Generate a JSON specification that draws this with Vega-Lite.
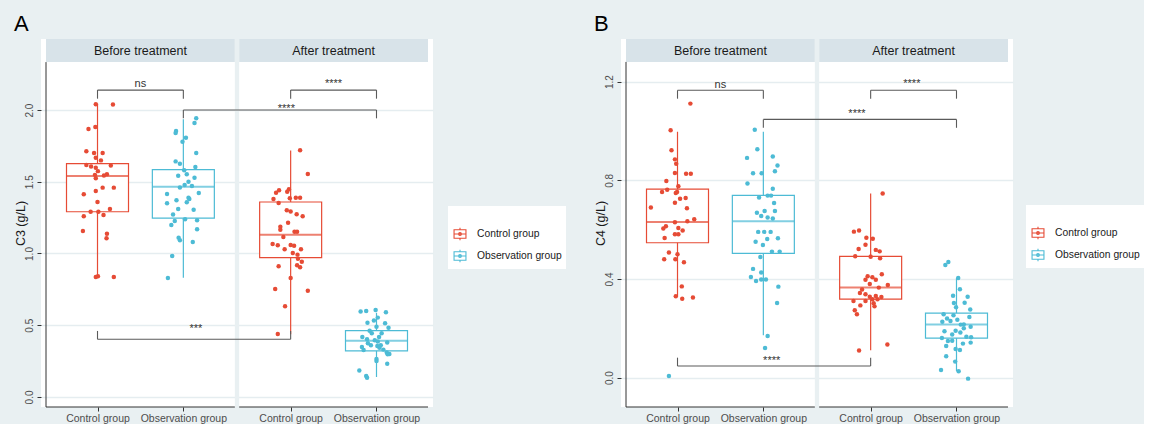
{
  "$schema": "https://vega.github.io/schema/vega-lite/v6.json",
  "background": "#e9f0f2",
  "padding": {"left": 14, "top": 13, "right": 0, "bottom": 0},
  "spacing": 188,
  "bounds": "flush",
  "resolve": {"scale": {"color": "independent", "stroke": "independent"}},
  "config": {
    "font": "Liberation Sans",
    "view": {"fill": "white", "stroke": null},
    "axis": {"labelFlush": false, "labelOverlap": false}
  },
  "datasets": {
    "one": [{}],
    "strips": [
      {"lab": "Before treatment", "x0": 0.4, "x1": 2.6, "xm": 1.5},
      {"lab": "After treatment", "x0": 2.65, "x1": 4.85, "xm": 3.75}
    ],
    "boxA": [
      {"t": "Before", "g": "Control group", "x": 1, "lo": 0.831, "q1": 1.291, "med": 1.54, "q3": 1.626, "hi": 2.045},
      {"t": "Before", "g": "Observation group", "x": 2, "lo": 0.831, "q1": 1.247, "med": 1.466, "q3": 1.584, "hi": 1.935},
      {"t": "After", "g": "Control group", "x": 3.25, "lo": 0.437, "q1": 0.971, "med": 1.131, "q3": 1.359, "hi": 1.717},
      {"t": "After", "g": "Observation group", "x": 4.25, "lo": 0.139, "q1": 0.321, "med": 0.392, "q3": 0.462, "hi": 0.587}
    ],
    "boxB": [
      {"t": "Before", "g": "Control group", "x": 1, "lo": 0.331, "q1": 0.547, "med": 0.631, "q3": 0.764, "hi": 0.997},
      {"t": "Before", "g": "Observation group", "x": 2, "lo": 0.172, "q1": 0.504, "med": 0.634, "q3": 0.739, "hi": 0.997},
      {"t": "After", "g": "Control group", "x": 3.25, "lo": 0.111, "q1": 0.318, "med": 0.365, "q3": 0.492, "hi": 0.747},
      {"t": "After", "g": "Observation group", "x": 4.25, "lo": 0.027, "q1": 0.16, "med": 0.215, "q3": 0.262, "hi": 0.405}
    ],
    "brA": [
      {"x1": 1, "x2": 2, "y": 2.139, "tip": 2.079, "lab": "ns", "lx": 1.5, "ly": 2.157},
      {"x1": 3.25, "x2": 4.25, "y": 2.139, "tip": 2.079, "lab": "****", "lx": 3.75, "ly": 2.163},
      {"x1": 2, "x2": 4.25, "y": 2.0, "tip": 1.942, "lab": "****", "lx": 3.2, "ly": 1.989},
      {"x1": 1, "x2": 3.25, "y": 0.402, "tip": 0.46, "lab": "***", "lx": 2.147, "ly": 0.456}
    ],
    "brB": [
      {"x1": 1, "x2": 2, "y": 1.165, "tip": 1.131, "lab": "ns", "lx": 1.5, "ly": 1.176},
      {"x1": 3.25, "x2": 4.25, "y": 1.165, "tip": 1.131, "lab": "****", "lx": 3.73, "ly": 1.18},
      {"x1": 2, "x2": 4.25, "y": 1.047, "tip": 1.013, "lab": "****", "lx": 3.09, "ly": 1.057},
      {"x1": 1, "x2": 3.25, "y": 0.047, "tip": 0.081, "lab": "****", "lx": 2.097, "ly": 0.056}
    ],
    "ptsA": [
      {"t":"Before","g":"Control group","x":0.98,"v":2.04},{"t":"Before","g":"Control group","x":1.18,"v":2.038},{"t":"Before","g":"Control group","x":0.895,"v":1.868},{"t":"Before","g":"Control group","x":0.975,"v":1.882},{"t":"Before","g":"Control group","x":0.87,"v":1.712},{"t":"Before","g":"Control group","x":0.96,"v":1.7},{"t":"Before","g":"Control group","x":1.06,"v":1.7},{"t":"Before","g":"Control group","x":0.98,"v":1.668},{"t":"Before","g":"Control group","x":1.04,"v":1.649},{"t":"Before","g":"Control group","x":0.87,"v":1.617},{"t":"Before","g":"Control group","x":0.925,"v":1.607},{"t":"Before","g":"Control group","x":0.98,"v":1.597},{"t":"Before","g":"Control group","x":1.005,"v":1.574},{"t":"Before","g":"Control group","x":1.11,"v":1.552},{"t":"Before","g":"Control group","x":1.155,"v":1.614},{"t":"Before","g":"Control group","x":0.98,"v":1.524},{"t":"Before","g":"Control group","x":1.06,"v":1.459},{"t":"Before","g":"Control group","x":1.19,"v":1.459},{"t":"Before","g":"Control group","x":0.98,"v":1.436},{"t":"Before","g":"Control group","x":0.84,"v":1.413},{"t":"Before","g":"Control group","x":1.0,"v":1.359},{"t":"Before","g":"Control group","x":1.145,"v":1.31},{"t":"Before","g":"Control group","x":0.92,"v":1.291},{"t":"Before","g":"Control group","x":1.01,"v":1.291},{"t":"Before","g":"Control group","x":1.07,"v":1.268},{"t":"Before","g":"Control group","x":0.84,"v":1.259},{"t":"Before","g":"Control group","x":0.83,"v":1.157},{"t":"Before","g":"Control group","x":1.11,"v":1.138},{"t":"Before","g":"Control group","x":1.105,"v":1.106},{"t":"Before","g":"Control group","x":0.98,"v":0.836},{"t":"Before","g":"Control group","x":1.005,"v":0.841},{"t":"Before","g":"Control group","x":1.19,"v":0.836},{"t":"Before","g":"Control group","x":0.97,"v":1.548},{"t":"Before","g":"Control group","x":1.075,"v":1.543},
      {"t":"Before","g":"Observation group","x":2.15,"v":1.942},{"t":"Before","g":"Observation group","x":2.13,"v":1.909},{"t":"Before","g":"Observation group","x":1.915,"v":1.854},{"t":"Before","g":"Observation group","x":1.91,"v":1.84},{"t":"Before","g":"Observation group","x":2.03,"v":1.807},{"t":"Before","g":"Observation group","x":1.99,"v":1.779},{"t":"Before","g":"Observation group","x":2.15,"v":1.7},{"t":"Before","g":"Observation group","x":1.91,"v":1.642},{"t":"Before","g":"Observation group","x":1.96,"v":1.626},{"t":"Before","g":"Observation group","x":2.01,"v":1.58},{"t":"Before","g":"Observation group","x":2.14,"v":1.603},{"t":"Before","g":"Observation group","x":2.04,"v":1.552},{"t":"Before","g":"Observation group","x":1.94,"v":1.542},{"t":"Before","g":"Observation group","x":2.13,"v":1.528},{"t":"Before","g":"Observation group","x":2.015,"v":1.477},{"t":"Before","g":"Observation group","x":2.1,"v":1.47},{"t":"Before","g":"Observation group","x":1.81,"v":1.415},{"t":"Before","g":"Observation group","x":2.18,"v":1.422},{"t":"Before","g":"Observation group","x":2.06,"v":1.389},{"t":"Before","g":"Observation group","x":1.92,"v":1.371},{"t":"Before","g":"Observation group","x":2.04,"v":1.357},{"t":"Before","g":"Observation group","x":1.81,"v":1.35},{"t":"Before","g":"Observation group","x":2.12,"v":1.305},{"t":"Before","g":"Observation group","x":1.88,"v":1.271},{"t":"Before","g":"Observation group","x":1.94,"v":1.31},{"t":"Before","g":"Observation group","x":2.02,"v":1.238},{"t":"Before","g":"Observation group","x":2.16,"v":1.231},{"t":"Before","g":"Observation group","x":1.9,"v":1.226},{"t":"Before","g":"Observation group","x":1.86,"v":1.199},{"t":"Before","g":"Observation group","x":2.16,"v":1.169},{"t":"Before","g":"Observation group","x":1.945,"v":1.11},{"t":"Before","g":"Observation group","x":1.96,"v":1.092},{"t":"Before","g":"Observation group","x":2.11,"v":1.08},{"t":"Before","g":"Observation group","x":1.87,"v":0.983},{"t":"Before","g":"Observation group","x":1.82,"v":0.829},{"t":"Before","g":"Observation group","x":2.06,"v":1.5},{"t":"Before","g":"Observation group","x":1.96,"v":1.46},{"t":"Before","g":"Observation group","x":2.07,"v":1.38},
      {"t":"After","g":"Control group","x":3.36,"v":1.719},{"t":"After","g":"Control group","x":3.45,"v":1.554},{"t":"After","g":"Control group","x":3.23,"v":1.447},{"t":"After","g":"Control group","x":3.21,"v":1.43},{"t":"After","g":"Control group","x":3.115,"v":1.44},{"t":"After","g":"Control group","x":3.08,"v":1.424},{"t":"After","g":"Control group","x":3.05,"v":1.38},{"t":"After","g":"Control group","x":3.24,"v":1.385},{"t":"After","g":"Control group","x":3.31,"v":1.389},{"t":"After","g":"Control group","x":3.36,"v":1.389},{"t":"After","g":"Control group","x":3.11,"v":1.352},{"t":"After","g":"Control group","x":3.205,"v":1.301},{"t":"After","g":"Control group","x":3.25,"v":1.292},{"t":"After","g":"Control group","x":3.32,"v":1.273},{"t":"After","g":"Control group","x":3.39,"v":1.259},{"t":"After","g":"Control group","x":3.22,"v":1.215},{"t":"After","g":"Control group","x":3.13,"v":1.187},{"t":"After","g":"Control group","x":3.13,"v":1.166},{"t":"After","g":"Control group","x":3.295,"v":1.152},{"t":"After","g":"Control group","x":3.325,"v":1.152},{"t":"After","g":"Control group","x":3.165,"v":1.115},{"t":"After","g":"Control group","x":3.04,"v":1.066},{"t":"After","g":"Control group","x":3.1,"v":1.057},{"t":"After","g":"Control group","x":3.25,"v":1.059},{"t":"After","g":"Control group","x":3.29,"v":1.054},{"t":"After","g":"Control group","x":3.18,"v":1.029},{"t":"After","g":"Control group","x":3.37,"v":1.029},{"t":"After","g":"Control group","x":3.275,"v":1.003},{"t":"After","g":"Control group","x":3.33,"v":0.992},{"t":"After","g":"Control group","x":3.335,"v":0.964},{"t":"After","g":"Control group","x":3.38,"v":0.943},{"t":"After","g":"Control group","x":3.325,"v":0.918},{"t":"After","g":"Control group","x":3.36,"v":0.904},{"t":"After","g":"Control group","x":3.11,"v":0.911},{"t":"After","g":"Control group","x":3.25,"v":0.829},{"t":"After","g":"Control group","x":3.07,"v":0.753},{"t":"After","g":"Control group","x":3.45,"v":0.741},{"t":"After","g":"Control group","x":3.185,"v":0.632},{"t":"After","g":"Control group","x":3.1,"v":0.439},
      {"t":"After","g":"Observation group","x":4.065,"v":0.595},{"t":"After","g":"Observation group","x":4.13,"v":0.599},{"t":"After","g":"Observation group","x":4.24,"v":0.606},{"t":"After","g":"Observation group","x":4.36,"v":0.591},{"t":"After","g":"Observation group","x":4.265,"v":0.553},{"t":"After","g":"Observation group","x":4.22,"v":0.533},{"t":"After","g":"Observation group","x":4.35,"v":0.513},{"t":"After","g":"Observation group","x":4.145,"v":0.518},{"t":"After","g":"Observation group","x":4.25,"v":0.49},{"t":"After","g":"Observation group","x":4.39,"v":0.483},{"t":"After","g":"Observation group","x":4.17,"v":0.462},{"t":"After","g":"Observation group","x":4.195,"v":0.444},{"t":"After","g":"Observation group","x":4.31,"v":0.444},{"t":"After","g":"Observation group","x":4.085,"v":0.418},{"t":"After","g":"Observation group","x":4.28,"v":0.418},{"t":"After","g":"Observation group","x":4.14,"v":0.402},{"t":"After","g":"Observation group","x":4.23,"v":0.395},{"t":"After","g":"Observation group","x":4.265,"v":0.386},{"t":"After","g":"Observation group","x":4.375,"v":0.379},{"t":"After","g":"Observation group","x":4.08,"v":0.348},{"t":"After","g":"Observation group","x":4.185,"v":0.36},{"t":"After","g":"Observation group","x":4.26,"v":0.355},{"t":"After","g":"Observation group","x":4.285,"v":0.343},{"t":"After","g":"Observation group","x":4.1,"v":0.327},{"t":"After","g":"Observation group","x":4.33,"v":0.33},{"t":"After","g":"Observation group","x":4.37,"v":0.31},{"t":"After","g":"Observation group","x":4.4,"v":0.3},{"t":"After","g":"Observation group","x":4.38,"v":0.297},{"t":"After","g":"Observation group","x":4.25,"v":0.265},{"t":"After","g":"Observation group","x":4.25,"v":0.251},{"t":"After","g":"Observation group","x":4.375,"v":0.232},{"t":"After","g":"Observation group","x":4.05,"v":0.184},{"t":"After","g":"Observation group","x":4.13,"v":0.146},{"t":"After","g":"Observation group","x":4.14,"v":0.134},{"t":"After","g":"Observation group","x":4.3,"v":0.36},{"t":"After","g":"Observation group","x":4.15,"v":0.375}
    ],
    "ptsB": [
      {"t":"Before","g":"Control group","x":1.15,"v":1.111},{"t":"Before","g":"Control group","x":0.92,"v":1.003},{"t":"Before","g":"Control group","x":0.93,"v":0.922},{"t":"Before","g":"Control group","x":0.97,"v":0.885},{"t":"Before","g":"Control group","x":0.985,"v":0.867},{"t":"Before","g":"Control group","x":0.97,"v":0.83},{"t":"Before","g":"Control group","x":1.1,"v":0.827},{"t":"Before","g":"Control group","x":1.155,"v":0.827},{"t":"Before","g":"Control group","x":0.87,"v":0.797},{"t":"Before","g":"Control group","x":1.01,"v":0.776},{"t":"Before","g":"Control group","x":0.88,"v":0.762},{"t":"Before","g":"Control group","x":0.82,"v":0.753},{"t":"Before","g":"Control group","x":0.98,"v":0.749},{"t":"Before","g":"Control group","x":0.995,"v":0.753},{"t":"Before","g":"Control group","x":1.095,"v":0.728},{"t":"Before","g":"Control group","x":0.97,"v":0.709},{"t":"Before","g":"Control group","x":1.11,"v":0.687},{"t":"Before","g":"Control group","x":1.115,"v":0.634},{"t":"Before","g":"Control group","x":1.195,"v":0.642},{"t":"Before","g":"Control group","x":0.97,"v":0.63},{"t":"Before","g":"Control group","x":0.865,"v":0.614},{"t":"Before","g":"Control group","x":0.835,"v":0.605},{"t":"Before","g":"Control group","x":1.01,"v":0.607},{"t":"Before","g":"Control group","x":1.06,"v":0.597},{"t":"Before","g":"Control group","x":0.97,"v":0.581},{"t":"Before","g":"Control group","x":1.01,"v":0.581},{"t":"Before","g":"Control group","x":0.85,"v":0.566},{"t":"Before","g":"Control group","x":0.9,"v":0.507},{"t":"Before","g":"Control group","x":1.0,"v":0.5},{"t":"Before","g":"Control group","x":0.845,"v":0.48},{"t":"Before","g":"Control group","x":0.975,"v":0.48},{"t":"Before","g":"Control group","x":1.075,"v":0.468},{"t":"Before","g":"Control group","x":1.05,"v":0.37},{"t":"Before","g":"Control group","x":0.98,"v":0.33},{"t":"Before","g":"Control group","x":1.055,"v":0.32},{"t":"Before","g":"Control group","x":1.18,"v":0.325},{"t":"Before","g":"Control group","x":1.03,"v":0.725},{"t":"Before","g":"Control group","x":0.69,"v":0.69},
      {"t":"Before","g":"Observation group","x":1.9,"v":1.005},{"t":"Before","g":"Observation group","x":1.93,"v":0.926},{"t":"Before","g":"Observation group","x":1.81,"v":0.891},{"t":"Before","g":"Observation group","x":2.11,"v":0.897},{"t":"Before","g":"Observation group","x":2.165,"v":0.86},{"t":"Before","g":"Observation group","x":2.135,"v":0.837},{"t":"Before","g":"Observation group","x":1.88,"v":0.829},{"t":"Before","g":"Observation group","x":1.98,"v":0.829},{"t":"Before","g":"Observation group","x":1.815,"v":0.787},{"t":"Before","g":"Observation group","x":2.11,"v":0.766},{"t":"Before","g":"Observation group","x":1.95,"v":0.73},{"t":"Before","g":"Observation group","x":2.05,"v":0.738},{"t":"Before","g":"Observation group","x":2.09,"v":0.738},{"t":"Before","g":"Observation group","x":2.125,"v":0.708},{"t":"Before","g":"Observation group","x":2.015,"v":0.676},{"t":"Before","g":"Observation group","x":2.135,"v":0.676},{"t":"Before","g":"Observation group","x":1.925,"v":0.669},{"t":"Before","g":"Observation group","x":1.975,"v":0.655},{"t":"Before","g":"Observation group","x":2.05,"v":0.649},{"t":"Before","g":"Observation group","x":2.11,"v":0.645},{"t":"Before","g":"Observation group","x":1.94,"v":0.591},{"t":"Before","g":"Observation group","x":2.01,"v":0.591},{"t":"Before","g":"Observation group","x":2.085,"v":0.591},{"t":"Before","g":"Observation group","x":2.045,"v":0.562},{"t":"Before","g":"Observation group","x":2.17,"v":0.565},{"t":"Before","g":"Observation group","x":1.91,"v":0.551},{"t":"Before","g":"Observation group","x":1.995,"v":0.538},{"t":"Before","g":"Observation group","x":2.1,"v":0.511},{"t":"Before","g":"Observation group","x":2.19,"v":0.511},{"t":"Before","g":"Observation group","x":1.965,"v":0.489},{"t":"Before","g":"Observation group","x":1.88,"v":0.441},{"t":"Before","g":"Observation group","x":1.975,"v":0.426},{"t":"Before","g":"Observation group","x":1.855,"v":0.408},{"t":"Before","g":"Observation group","x":1.915,"v":0.392},{"t":"Before","g":"Observation group","x":1.975,"v":0.398},{"t":"Before","g":"Observation group","x":2.03,"v":0.398},{"t":"Before","g":"Observation group","x":2.175,"v":0.369},{"t":"Before","g":"Observation group","x":2.16,"v":0.303},{"t":"Before","g":"Observation group","x":2.05,"v":0.169},{"t":"Before","g":"Observation group","x":2.02,"v":0.12},{"t":"Before","g":"Observation group","x":0.9,"v":0.007},
      {"t":"After","g":"Control group","x":3.39,"v":0.747},{"t":"After","g":"Control group","x":3.055,"v":0.592},{"t":"After","g":"Control group","x":3.115,"v":0.597},{"t":"After","g":"Control group","x":3.2,"v":0.567},{"t":"After","g":"Control group","x":3.275,"v":0.563},{"t":"After","g":"Control group","x":3.19,"v":0.539},{"t":"After","g":"Control group","x":3.11,"v":0.522},{"t":"After","g":"Control group","x":3.31,"v":0.518},{"t":"After","g":"Control group","x":3.355,"v":0.512},{"t":"After","g":"Control group","x":3.07,"v":0.492},{"t":"After","g":"Control group","x":3.25,"v":0.49},{"t":"After","g":"Control group","x":3.36,"v":0.484},{"t":"After","g":"Control group","x":3.38,"v":0.419},{"t":"After","g":"Control group","x":3.215,"v":0.411},{"t":"After","g":"Control group","x":3.27,"v":0.407},{"t":"After","g":"Control group","x":3.19,"v":0.397},{"t":"After","g":"Control group","x":3.31,"v":0.397},{"t":"After","g":"Control group","x":3.45,"v":0.376},{"t":"After","g":"Control group","x":3.345,"v":0.365},{"t":"After","g":"Control group","x":3.15,"v":0.357},{"t":"After","g":"Control group","x":3.125,"v":0.343},{"t":"After","g":"Control group","x":3.19,"v":0.338},{"t":"After","g":"Control group","x":3.24,"v":0.328},{"t":"After","g":"Control group","x":3.31,"v":0.331},{"t":"After","g":"Control group","x":3.375,"v":0.327},{"t":"After","g":"Control group","x":3.27,"v":0.318},{"t":"After","g":"Control group","x":3.05,"v":0.311},{"t":"After","g":"Control group","x":3.19,"v":0.311},{"t":"After","g":"Control group","x":3.285,"v":0.302},{"t":"After","g":"Control group","x":3.13,"v":0.293},{"t":"After","g":"Control group","x":3.295,"v":0.289},{"t":"After","g":"Control group","x":3.065,"v":0.273},{"t":"After","g":"Control group","x":3.09,"v":0.257},{"t":"After","g":"Control group","x":3.445,"v":0.134},{"t":"After","g":"Control group","x":3.115,"v":0.11},{"t":"After","g":"Control group","x":3.33,"v":0.318},{"t":"After","g":"Control group","x":3.24,"v":0.38},
      {"t":"After","g":"Observation group","x":4.155,"v":0.469},{"t":"After","g":"Observation group","x":4.12,"v":0.457},{"t":"After","g":"Observation group","x":4.27,"v":0.404},{"t":"After","g":"Observation group","x":4.29,"v":0.358},{"t":"After","g":"Observation group","x":4.21,"v":0.332},{"t":"After","g":"Observation group","x":4.38,"v":0.328},{"t":"After","g":"Observation group","x":4.345,"v":0.304},{"t":"After","g":"Observation group","x":4.22,"v":0.303},{"t":"After","g":"Observation group","x":4.245,"v":0.285},{"t":"After","g":"Observation group","x":4.41,"v":0.276},{"t":"After","g":"Observation group","x":4.1,"v":0.257},{"t":"After","g":"Observation group","x":4.215,"v":0.253},{"t":"After","g":"Observation group","x":4.4,"v":0.246},{"t":"After","g":"Observation group","x":4.085,"v":0.227},{"t":"After","g":"Observation group","x":4.18,"v":0.23},{"t":"After","g":"Observation group","x":4.335,"v":0.216},{"t":"After","g":"Observation group","x":4.415,"v":0.206},{"t":"After","g":"Observation group","x":4.11,"v":0.188},{"t":"After","g":"Observation group","x":4.24,"v":0.19},{"t":"After","g":"Observation group","x":4.295,"v":0.183},{"t":"After","g":"Observation group","x":4.08,"v":0.161},{"t":"After","g":"Observation group","x":4.365,"v":0.166},{"t":"After","g":"Observation group","x":4.42,"v":0.164},{"t":"After","g":"Observation group","x":4.15,"v":0.149},{"t":"After","g":"Observation group","x":4.325,"v":0.138},{"t":"After","g":"Observation group","x":4.415,"v":0.142},{"t":"After","g":"Observation group","x":4.24,"v":0.116},{"t":"After","g":"Observation group","x":4.29,"v":0.112},{"t":"After","g":"Observation group","x":4.13,"v":0.087},{"t":"After","g":"Observation group","x":4.235,"v":0.065},{"t":"After","g":"Observation group","x":4.07,"v":0.031},{"t":"After","g":"Observation group","x":4.275,"v":0.026},{"t":"After","g":"Observation group","x":4.385,"v":-0.004},{"t":"After","g":"Observation group","x":4.14,"v":0.24},{"t":"After","g":"Observation group","x":4.26,"v":0.235},{"t":"After","g":"Observation group","x":4.2,"v":0.175},{"t":"After","g":"Observation group","x":4.335,"v":0.2},{"t":"After","g":"Observation group","x":4.13,"v":0.128},{"t":"After","g":"Observation group","x":4.2,"v":0.15},{"t":"After","g":"Observation group","x":4.3,"v":0.215}
    ]
  },
  "hconcat": [
    {
      "width": 392, "height": 368,
      "title": {"text": "A", "anchor": "start", "frame": "bounds", "fontSize": 22, "fontWeight": "normal", "color": "#000000", "offset": 3},
      "layer": [
        {"data": {"name": "ptsA"}, "mark": {"type": "circle", "size": 20, "opacity": 0},
         "encoding": {
           "x": {"field": "x", "type": "quantitative", "scale": {"domain": [0.4, 4.85], "nice": false, "zero": false},
             "axis": {"values": [1, 2, 3.25, 4.25], "labelExpr": "(datum.value < 1.5 || (datum.value > 3 && datum.value < 3.5)) ? 'Control group' : 'Observation group'", "domain": false, "grid": false, "ticks": true, "tickColor": "#333333", "tickSize": 4, "labelFontSize": 10.5, "labelColor": "#4d4d4d", "labelPadding": 2, "title": null}},
           "y": {"field": "v", "type": "quantitative", "scale": {"domain": [-0.07, 2.495], "nice": false, "zero": false},
             "axis": {"values": [0, 0.5, 1, 1.5, 2], "format": ".1f", "labelAngle": 270, "domain": false, "grid": true, "gridColor": "#e5edf0", "gridWidth": 1.5, "tickColor": "#333333", "tickSize": 4, "labelFontSize": 10, "labelColor": "#4d4d4d", "labelPadding": 3, "minExtent": 12, "maxExtent": 12, "title": "C3 (g/L)", "titleFontSize": 12.5, "titleFontWeight": "normal", "titleColor": "#1a1a1a", "titlePadding": 2}},
           "color": {"field": "g", "type": "nominal", "scale": {"range": ["#E64B35", "#4DBBD5"]}, "legend": null}}},
        {"data": {"name": "strips"}, "mark": {"type": "rect", "fill": "#d8e3e9"},
         "encoding": {"x": {"field": "x0", "type": "quantitative"}, "x2": {"field": "x1"}, "y": {"datum": 2.334, "type": "quantitative"}, "y2": {"datum": 2.495}}},
        {"data": {"name": "strips"}, "mark": {"type": "text", "fontSize": 12.5, "color": "#1a1a1a", "baseline": "middle"},
         "encoding": {"x": {"field": "xm", "type": "quantitative"}, "y": {"datum": 2.411, "type": "quantitative"}, "text": {"field": "lab"}}},
        {"data": {"name": "one"}, "mark": {"type": "rect", "fill": "#e9f0f2"},
         "encoding": {"x": {"datum": 2.6, "type": "quantitative"}, "x2": {"datum": 2.65}, "y": {"datum": -0.07, "type": "quantitative"}, "y2": {"datum": 2.495}}},
        {"data": {"name": "boxA"}, "mark": {"type": "bar", "width": 62, "fill": "white", "strokeWidth": 1.2},
         "encoding": {"x": {"field": "x", "type": "quantitative"}, "y": {"field": "q1", "type": "quantitative"}, "y2": {"field": "q3"},
           "stroke": {"field": "g", "type": "nominal", "title": " ", "scale": {"domain": ["Control group", "Observation group"], "range": ["#E64B35", "#4DBBD5"]},
             "legend": {"orient": "none", "legendX": 407, "legendY": 167, "fillColor": "white", "padding": 4, "titleFontSize": 12, "titlePadding": 4,
               "symbolType": "M-0.85,-0.6H0.85V0.6H-0.85Z M-0.85,0H0.85 M0,-0.6V-0.9 M0,0.6V0.9 M0.2,0A0.2,0.2 0 1,1 -0.2,0A0.2,0.2 0 1,1 0.2,0",
               "symbolSize": 196, "symbolStrokeWidth": 1.1, "symbolFillColor": "white", "labelFontSize": 10.3, "labelColor": "#1a1a1a", "labelOffset": 9, "rowPadding": 4}}}},
        {"data": {"name": "boxA"}, "mark": {"type": "rule", "strokeWidth": 1.2},
         "encoding": {"x": {"field": "x", "type": "quantitative"}, "y": {"field": "lo", "type": "quantitative"}, "y2": {"field": "q1"},
           "stroke": {"field": "g", "type": "nominal"}}},
        {"data": {"name": "boxA"}, "mark": {"type": "rule", "strokeWidth": 1.2},
         "encoding": {"x": {"field": "x", "type": "quantitative"}, "y": {"field": "q3", "type": "quantitative"}, "y2": {"field": "hi"},
           "stroke": {"field": "g", "type": "nominal"}}},
        {"data": {"name": "boxA"}, "mark": {"type": "tick", "orient": "horizontal", "size": 62, "thickness": 2},
         "encoding": {"x": {"field": "x", "type": "quantitative"}, "y": {"field": "med", "type": "quantitative"},
           "color": {"field": "g", "type": "nominal", "legend": null}}},
        {"data": {"name": "ptsA"}, "mark": {"type": "circle", "size": 20, "opacity": 1},
         "encoding": {"x": {"field": "x", "type": "quantitative"}, "y": {"field": "v", "type": "quantitative"},
           "color": {"field": "g", "type": "nominal", "legend": null}}},
        {"data": {"name": "brA"}, "mark": {"type": "rule", "color": "#5a5a5a", "strokeWidth": 1.1},
         "encoding": {"x": {"field": "x1", "type": "quantitative"}, "x2": {"field": "x2"}, "y": {"field": "y", "type": "quantitative"}}},
        {"data": {"name": "brA"}, "mark": {"type": "rule", "color": "#5a5a5a", "strokeWidth": 1.1},
         "encoding": {"x": {"field": "x1", "type": "quantitative"}, "y": {"field": "y", "type": "quantitative"}, "y2": {"field": "tip"}}},
        {"data": {"name": "brA"}, "mark": {"type": "rule", "color": "#5a5a5a", "strokeWidth": 1.1},
         "encoding": {"x": {"field": "x2", "type": "quantitative"}, "y": {"field": "y", "type": "quantitative"}, "y2": {"field": "tip"}}},
        {"data": {"name": "brA"}, "mark": {"type": "text", "fontSize": 11, "color": "#333333", "baseline": "alphabetic"},
         "encoding": {"x": {"field": "lx", "type": "quantitative"}, "y": {"field": "ly", "type": "quantitative"}, "text": {"field": "lab"}}},
        {"data": {"name": "one"}, "mark": {"type": "rule", "color": "#333333", "strokeWidth": 1},
         "encoding": {"x": {"datum": 0.4, "type": "quantitative"}, "x2": {"datum": 2.6}, "y": {"datum": -0.07, "type": "quantitative"}}},
        {"data": {"name": "one"}, "mark": {"type": "rule", "color": "#333333", "strokeWidth": 1},
         "encoding": {"x": {"datum": 2.65, "type": "quantitative"}, "x2": {"datum": 4.85}, "y": {"datum": -0.07, "type": "quantitative"}}},
        {"data": {"name": "one"}, "mark": {"type": "rule", "color": "#333333", "strokeWidth": 1},
         "encoding": {"x": {"datum": 0.4, "type": "quantitative"}, "y": {"datum": -0.07, "type": "quantitative"}, "y2": {"datum": 2.334}}}
      ]
    },
    {
      "width": 392, "height": 368,
      "title": {"text": "B", "anchor": "start", "frame": "bounds", "fontSize": 22, "fontWeight": "normal", "color": "#000000", "offset": 3},
      "layer": [
        {"data": {"name": "ptsB"}, "mark": {"type": "circle", "size": 20, "opacity": 0},
         "encoding": {
           "x": {"field": "x", "type": "quantitative", "scale": {"domain": [0.4, 4.85], "nice": false, "zero": false},
             "axis": {"values": [1, 2, 3.25, 4.25], "labelExpr": "(datum.value < 1.5 || (datum.value > 3 && datum.value < 3.5)) ? 'Control group' : 'Observation group'", "domain": false, "grid": false, "ticks": true, "tickColor": "#333333", "tickSize": 4, "labelFontSize": 10.5, "labelColor": "#4d4d4d", "labelPadding": 2, "title": null}},
           "y": {"field": "v", "type": "quantitative", "scale": {"domain": [-0.119, 1.373], "nice": false, "zero": false},
             "axis": {"values": [0, 0.4, 0.8, 1.2], "format": ".1f", "labelAngle": 270, "domain": false, "grid": true, "gridColor": "#e5edf0", "gridWidth": 1.5, "tickColor": "#333333", "tickSize": 4, "labelFontSize": 10, "labelColor": "#4d4d4d", "labelPadding": 3, "minExtent": 12, "maxExtent": 12, "title": "C4 (g/L)", "titleFontSize": 12.5, "titleFontWeight": "normal", "titleColor": "#1a1a1a", "titlePadding": 2}},
           "color": {"field": "g", "type": "nominal", "scale": {"range": ["#E64B35", "#4DBBD5"]}, "legend": null}}},
        {"data": {"name": "strips"}, "mark": {"type": "rect", "fill": "#d8e3e9"},
         "encoding": {"x": {"field": "x0", "type": "quantitative"}, "x2": {"field": "x1"}, "y": {"datum": 1.28, "type": "quantitative"}, "y2": {"datum": 1.373}}},
        {"data": {"name": "strips"}, "mark": {"type": "text", "fontSize": 12.5, "color": "#1a1a1a", "baseline": "middle"},
         "encoding": {"x": {"field": "xm", "type": "quantitative"}, "y": {"datum": 1.324, "type": "quantitative"}, "text": {"field": "lab"}}},
        {"data": {"name": "one"}, "mark": {"type": "rect", "fill": "#e9f0f2"},
         "encoding": {"x": {"datum": 2.6, "type": "quantitative"}, "x2": {"datum": 2.65}, "y": {"datum": -0.119, "type": "quantitative"}, "y2": {"datum": 1.373}}},
        {"data": {"name": "boxB"}, "mark": {"type": "bar", "width": 62, "fill": "white", "strokeWidth": 1.2},
         "encoding": {"x": {"field": "x", "type": "quantitative"}, "y": {"field": "q1", "type": "quantitative"}, "y2": {"field": "q3"},
           "stroke": {"field": "g", "type": "nominal", "title": " ", "scale": {"domain": ["Control group", "Observation group"], "range": ["#E64B35", "#4DBBD5"]},
             "legend": {"orient": "none", "legendX": 405, "legendY": 166, "fillColor": "white", "padding": 4, "titleFontSize": 12, "titlePadding": 4,
               "symbolType": "M-0.85,-0.6H0.85V0.6H-0.85Z M-0.85,0H0.85 M0,-0.6V-0.9 M0,0.6V0.9 M0.2,0A0.2,0.2 0 1,1 -0.2,0A0.2,0.2 0 1,1 0.2,0",
               "symbolSize": 196, "symbolStrokeWidth": 1.1, "symbolFillColor": "white", "labelFontSize": 10.3, "labelColor": "#1a1a1a", "labelOffset": 9, "rowPadding": 4}}}},
        {"data": {"name": "boxB"}, "mark": {"type": "rule", "strokeWidth": 1.2},
         "encoding": {"x": {"field": "x", "type": "quantitative"}, "y": {"field": "lo", "type": "quantitative"}, "y2": {"field": "q1"},
           "stroke": {"field": "g", "type": "nominal"}}},
        {"data": {"name": "boxB"}, "mark": {"type": "rule", "strokeWidth": 1.2},
         "encoding": {"x": {"field": "x", "type": "quantitative"}, "y": {"field": "q3", "type": "quantitative"}, "y2": {"field": "hi"},
           "stroke": {"field": "g", "type": "nominal"}}},
        {"data": {"name": "boxB"}, "mark": {"type": "tick", "orient": "horizontal", "size": 62, "thickness": 2},
         "encoding": {"x": {"field": "x", "type": "quantitative"}, "y": {"field": "med", "type": "quantitative"},
           "color": {"field": "g", "type": "nominal", "legend": null}}},
        {"data": {"name": "ptsB"}, "mark": {"type": "circle", "size": 20, "opacity": 1},
         "encoding": {"x": {"field": "x", "type": "quantitative"}, "y": {"field": "v", "type": "quantitative"},
           "color": {"field": "g", "type": "nominal", "legend": null}}},
        {"data": {"name": "brB"}, "mark": {"type": "rule", "color": "#5a5a5a", "strokeWidth": 1.1},
         "encoding": {"x": {"field": "x1", "type": "quantitative"}, "x2": {"field": "x2"}, "y": {"field": "y", "type": "quantitative"}}},
        {"data": {"name": "brB"}, "mark": {"type": "rule", "color": "#5a5a5a", "strokeWidth": 1.1},
         "encoding": {"x": {"field": "x1", "type": "quantitative"}, "y": {"field": "y", "type": "quantitative"}, "y2": {"field": "tip"}}},
        {"data": {"name": "brB"}, "mark": {"type": "rule", "color": "#5a5a5a", "strokeWidth": 1.1},
         "encoding": {"x": {"field": "x2", "type": "quantitative"}, "y": {"field": "y", "type": "quantitative"}, "y2": {"field": "tip"}}},
        {"data": {"name": "brB"}, "mark": {"type": "text", "fontSize": 11, "color": "#333333", "baseline": "alphabetic"},
         "encoding": {"x": {"field": "lx", "type": "quantitative"}, "y": {"field": "ly", "type": "quantitative"}, "text": {"field": "lab"}}},
        {"data": {"name": "one"}, "mark": {"type": "rule", "color": "#333333", "strokeWidth": 1},
         "encoding": {"x": {"datum": 0.4, "type": "quantitative"}, "x2": {"datum": 2.6}, "y": {"datum": -0.119, "type": "quantitative"}}},
        {"data": {"name": "one"}, "mark": {"type": "rule", "color": "#333333", "strokeWidth": 1},
         "encoding": {"x": {"datum": 2.65, "type": "quantitative"}, "x2": {"datum": 4.85}, "y": {"datum": -0.119, "type": "quantitative"}}},
        {"data": {"name": "one"}, "mark": {"type": "rule", "color": "#333333", "strokeWidth": 1},
         "encoding": {"x": {"datum": 0.4, "type": "quantitative"}, "y": {"datum": -0.119, "type": "quantitative"}, "y2": {"datum": 1.28}}}
      ]
    }
  ]
}
